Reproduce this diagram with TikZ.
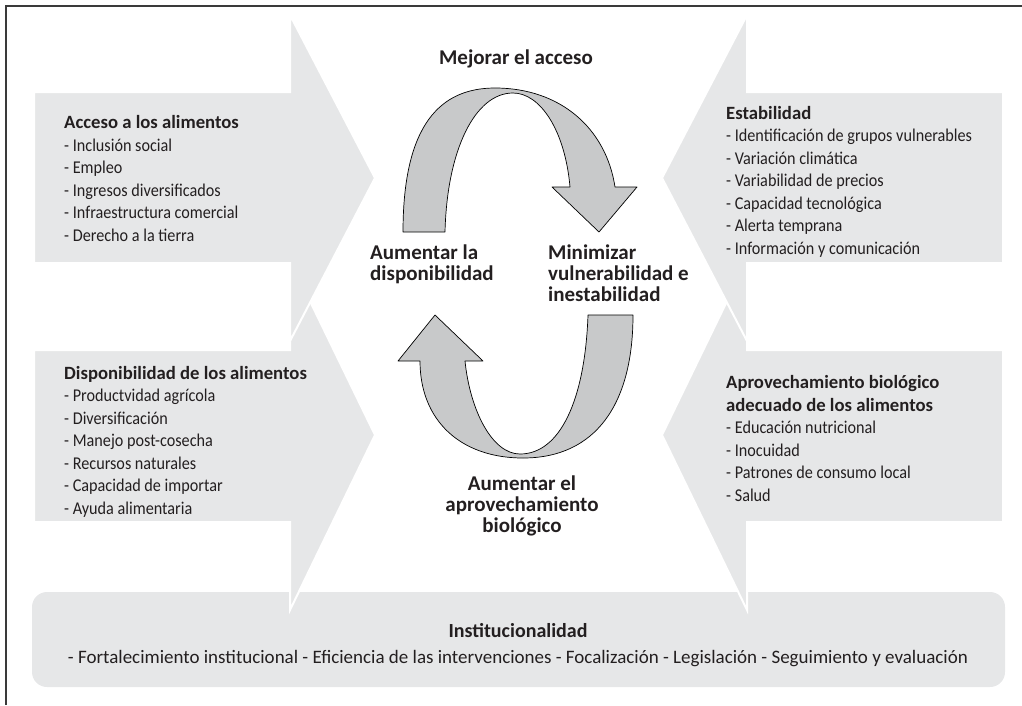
\documentclass[tikz,border=0pt]{standalone}
\usepackage{fontspec}
\setmainfont{Carlito}
\newfontfamily\condfont[FakeStretch=0.9]{Carlito}
\usetikzlibrary{positioning}

\definecolor{bandgray}{HTML}{E6E7E8}
\definecolor{loopgray}{HTML}{C8C9CA}
\definecolor{inkgray}{HTML}{231F20}
\definecolor{framegray}{HTML}{3A3A3A}

\tikzset{
  band/.style={fill=bandgray, draw=white, line width=2pt},
  looparrow/.style={fill=loopgray, draw=black, line width=0.7pt, line join=round},
  listtext/.style={inner sep=0pt, align=left, text=inkgray, font=\fontsize{18}{22.5}\selectfont\condfont},
  looptext/.style={inner sep=0pt, text=inkgray, font=\fontsize{21}{21}\selectfont\bfseries},
}
\newcommand{\headline}[1]{{\normalfont\fontsize{18.7}{22.5}\selectfont\bfseries #1}}

\begin{document}
\begin{tikzpicture}[x=1pt, y=-1pt]
    \useasboundingbox (0,0) rectangle (1022,705);
    \draw[framegray, line width=1.3pt] (6,705) -- (6,6) -- (1022,6);

    % institucionalidad
    \fill[bandgray, rounded corners=15pt] (32,592) rectangle (1005,687);

    % big arrows
    \filldraw[band] (34,350) -- (290,350) -- (290,260) -- (375,435) -- (290,610) -- (290,522) -- (34,522) -- cycle;
    \filldraw[band] (1003,350) -- (747,350) -- (747,260) -- (662,435) -- (747,610) -- (747,522) -- (1003,522) -- cycle;
    \filldraw[band] (34,92) -- (290,92) -- (290,15) -- (375,178) -- (290,341) -- (290,263) -- (34,263) -- cycle;
    \filldraw[band] (1003,92) -- (747,92) -- (747,15) -- (662,178) -- (747,341) -- (747,263) -- (1003,263) -- cycle;

    % cycle
    \filldraw[looparrow] (403,232) .. controls (403,125) and (440,88) .. (495,88)
        .. controls (560,88) and (606,128) .. (615,187) -- (637,187) -- (599,232) -- (552,187) -- (570,187)
        .. controls (565,130) and (540,93) .. (513,93) .. controls (475,93) and (447,150) .. (445,232) -- cycle;
    \filldraw[looparrow] (633,315) .. controls (633,405) and (595,458) .. (523,458)
        .. controls (460,458) and (420,420) .. (420,361) -- (398,361) -- (435,315) -- (483,361) -- (465,361)
        .. controls (470,410) and (492,454) .. (520,454) .. controls (560,454) and (585,400) .. (588,315) -- cycle;

    \node[looptext, anchor=base] (mejorar) at (516,64) {Mejorar el acceso};
    \node[looptext, anchor=north west, align=left] (dispo) at (370,245) {Aumentar la\\disponibilidad};
    \node[looptext, anchor=north west, align=left] (minim) at (548,245) {Minimizar\\vulnerabilidad e\\inestabilidad};
    \node[looptext, anchor=north, align=center] (aprov) at (522,476) {Aumentar el\\aprovechamiento\\biológico};

    \node[listtext, anchor=north west] (acceso) at (64,115.5) {\headline{Acceso a los alimentos}\\
        - Inclusión social\\- Empleo\\- Ingresos diversificados\\- Infraestructura comercial\\- Derecho a la tierra};
    \node[listtext, anchor=north west] (disponib) at (64,366) {\headline{Disponibilidad de los alimentos}\\
        - Productvidad agrícola\\- Diversificación\\- Manejo post-cosecha\\- Recursos naturales\\- Capacidad de importar\\- Ayuda alimentaria};
    \node[listtext, anchor=north west] (estab) at (726,106) {\headline{Estabilidad}\\
        - Identificación de grupos vulnerables\\- Variación climática\\- Variabilidad de precios\\- Capacidad tecnológica\\- Alerta temprana\\- Información y comunicación};
    \node[listtext, anchor=north west] (biolog) at (726,375.5) {\headline{Aprovechamiento biológico}\\\headline{adecuado de los alimentos}\\
        - Educación nutricional\\- Inocuidad\\- Patrones de consumo local\\- Salud};

    \node[looptext, anchor=base, font=\fontsize{20}{22}\selectfont\bfseries] (inst) at (518,637) {Institucionalidad};
    \node[listtext, anchor=base, font=\fontsize{19}{22}\selectfont\normalfont] (instlist) at (518,663)
        {- Fortalecimiento institucional - Eficiencia de las intervenciones - Focalización - Legislación - Seguimiento y evaluación};
\end{tikzpicture}
\end{document}
